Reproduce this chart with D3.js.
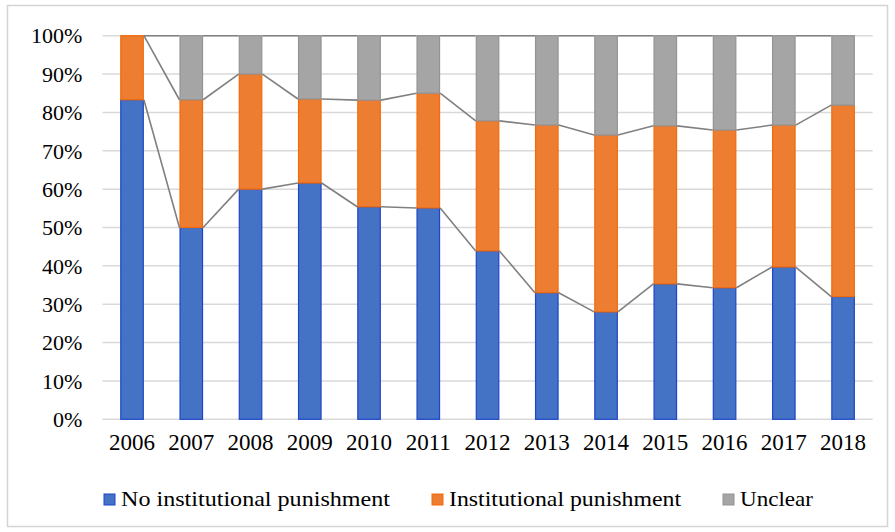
<!DOCTYPE html>
<html>
<head>
<meta charset="utf-8">
<script src="https://cdn.jsdelivr.net/npm/d3@7"></script>
<style>
  body { margin: 0; background: #fff; }
  svg text { font-family: "Liberation Serif", "Times New Roman", serif; fill: #000; }
</style>
</head>
<body>
<div class="viz"></div>
<script>
const years = ['2006','2007','2008','2009','2010','2011','2012','2013','2014','2015','2016','2017','2018']
const noPunishment = [83.3, 50, 60, 61.6, 55.4, 55.1, 43.9, 33, 28, 35.3, 34.3, 39.7, 32]
const punishment = [16.7, 33.3, 30, 21.9, 27.8, 29.9, 33.9, 43.7, 46.1, 41.2, 41.1, 37, 49.9]
const unclear = [0, 16.7, 10, 16.5, 16.8, 15, 22.2, 23.3, 25.9, 23.5, 24.6, 23.3, 18.1]
const yTicks = [0, 10, 20, 30, 40, 50, 60, 70, 80, 90, 100]
const seriesNames = ['No institutional punishment', 'Institutional punishment', 'Unclear']

const width = 895
const height = 532
const margin = {top: 35.7, right: 22.3, bottom: 112.7, left: 102.4}

const colors = ['#4472c4', '#ed7d31', '#a5a5a5']
const edges = ['#1f45c8', '#f26a0a', '#939393']

const table = years.map((y, i) => ({year: y, a: noPunishment[i], b: punishment[i], c: unclear[i]}))
const stacked = d3.stack().keys(['a', 'b', 'c'])(table)

const svg = d3.select('.viz').append('svg')
  .attr('width', width)
  .attr('height', height)

// chart frame
svg.append('rect')
  .attr('x', 7.5).attr('y', 5.5)
  .attr('width', 880).attr('height', 521)
  .attr('fill', 'none')
  .attr('stroke', '#d4d4d4')
  .attr('stroke-width', 1.5)

const x = d3.scaleBand()
  .domain(years)
  .range([margin.left, width - margin.right])
  .paddingInner(0.6)
  .paddingOuter(0.3)

const y = d3.scaleLinear()
  .domain([0, 100])
  .range([height - margin.bottom, margin.top])

// gridlines
svg.append('g')
  .selectAll('line')
  .data(yTicks)
  .join('line')
    .attr('x1', margin.left)
    .attr('x2', width - margin.right)
    .attr('y1', d => y(d))
    .attr('y2', d => y(d))
    .attr('stroke', '#d9d9d9')
    .attr('stroke-width', 1.5)

// y axis labels
const yAxis = d3.axisLeft(y)
  .tickValues(yTicks)
  .tickFormat(d => d + '%')
  .tickSize(0)
  .tickPadding(20)

svg.append('g')
  .attr('transform', `translate(${margin.left},0)`)
  .call(yAxis)
  .call(g => g.select('.domain').remove())
  .call(g => g.selectAll('text')
    .attr('font-size', 22)
    .attr('font-family', '"Liberation Serif", serif')
    .attr('dy', '0.33em')
    .attr('fill', '#000'))

// x axis labels
const xAxis = d3.axisBottom(x).tickSize(0).tickPadding(14)
svg.append('g')
  .attr('transform', `translate(0,${y(0)})`)
  .call(xAxis)
  .call(g => g.select('.domain').remove())
  .call(g => g.selectAll('text')
    .attr('font-size', 23)
    .attr('font-family', '"Liberation Serif", serif')
    .attr('fill', '#000'))

// bars
const layers = svg.append('g')
  .selectAll('g')
  .data(stacked)
  .join('g')
    .attr('fill', (d, i) => colors[i])
    .attr('stroke', (d, i) => edges[i])
    .attr('stroke-width', 1.2)

layers.selectAll('rect')
  .data(d => d)
  .join('rect')
    .attr('x', d => x(d.data.year) + 0.6)
    .attr('width', x.bandwidth() - 1.2)
    .attr('y', d => y(d[1]))
    .attr('height', d => Math.max(0, y(d[0]) - y(d[1])))
    .attr('display', d => d[1] - d[0] > 0 ? null : 'none')

// series lines between bar tops
const seriesLines = []
stacked.forEach(layer => {
  d3.pairs(layer).forEach(([p, q]) => {
    seriesLines.push({x1: x(p.data.year) + x.bandwidth(), y1: y(p[1]), x2: x(q.data.year), y2: y(q[1])})
  })
})

svg.append('g')
  .selectAll('line')
  .data(seriesLines)
  .join('line')
    .attr('x1', d => d.x1).attr('y1', d => d.y1)
    .attr('x2', d => d.x2).attr('y2', d => d.y2)
    .attr('stroke', '#808080')
    .attr('stroke-width', 1.6)

// legend
const legendX = [104, 432, 723]
const legendW = [269, 232, 73]
const legend = svg.append('g')
  .selectAll('g')
  .data(seriesNames)
  .join('g')
    .attr('transform', (d, i) => `translate(${legendX[i]},494)`)

legend.append('rect')
  .attr('width', 11).attr('height', 11)
  .attr('fill', (d, i) => colors[i])
  .attr('stroke', (d, i) => edges[i])
  .attr('stroke-width', 1)

legend.append('text')
  .attr('x', 17)
  .attr('y', 12)
  .attr('font-size', 22)
  .attr('textLength', (d, i) => legendW[i])
  .attr('lengthAdjust', 'spacingAndGlyphs')
  .text(d => d)
</script>
</body>
</html>
